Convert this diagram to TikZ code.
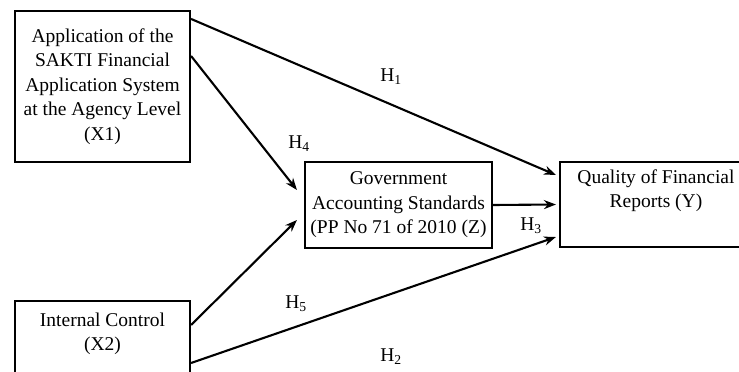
\documentclass[tikz,border=0pt]{standalone}
\usepackage{fontspec}
\setmainfont{Liberation Serif}
\usepackage{tikz}
\usetikzlibrary{arrows.meta,calc}

\tikzset{
	varbox/.style={draw=black,line width=2.1pt,align=center,inner sep=0pt,
		font=\fontsize{19.5}{24.5}\selectfont},
	hyplabel/.style={font=\fontsize{19.5}{22}\selectfont,inner sep=0pt},
	path/.style={line width=2.1pt,-{Stealth[length=12pt,width=9pt]}}
}

\begin{document}
\begin{tikzpicture}[x=1pt,y=-1pt]
	% Frame
	\useasboundingbox (0,0) rectangle (739,372);
	\clip (0,0) rectangle (739,372);
	% Variables
	\node[varbox,minimum width=175pt,minimum height=151pt] (X1) at (102.5,86.5)
		{Application of the\\SAKTI Financial\\Application System\\at the Agency Level\\(X1)};
	\node[varbox,minimum width=175pt,minimum height=90pt,anchor=north] (X2) at (102.5,300)
		{\strut Internal Control\\(X2)\\ \strut};
	\node[varbox,minimum width=187pt,minimum height=86pt] (Z) at (398.5,205)
		{Government\\Accounting Standards\\(PP No 71 of 2010 (Z)};
	\node[varbox,minimum width=192pt,minimum height=85pt] (Y) at (656,204.5)
		{Quality of Financial\\Reports (Y)\\ \strut};
	% Paths
	\draw[path] ([yshift=-9pt]X1.north east) -- ([xshift=-3pt,yshift=29.5pt]Y.west);
	\draw[path] ([yshift=-46pt]X1.north east) -- ([xshift=-7pt,yshift=15pt]Z.west);
	\draw[path] ([yshift=-25pt]X2.north east) -- ([xshift=-7pt,yshift=-15pt]Z.west);
	\draw[path] (Z.east) -- ([xshift=-3pt]Y.west);
	\draw[path] ([yshift=-63pt]X2.north east) -- ([xshift=-3pt,yshift=-32.5pt]Y.west);
	% Hypotheses
	\node[hyplabel] (H1) at (391,77) {H\textsubscript{1}};
	\node[hyplabel] (H4) at (299,144) {H\textsubscript{4}};
	\node[hyplabel] (H3) at (531,226) {H\textsubscript{3}};
	\node[hyplabel] (H5) at (296,304) {H\textsubscript{5}};
	\node[hyplabel] (H2) at (391,357) {H\textsubscript{2}};
\end{tikzpicture}
\end{document}
